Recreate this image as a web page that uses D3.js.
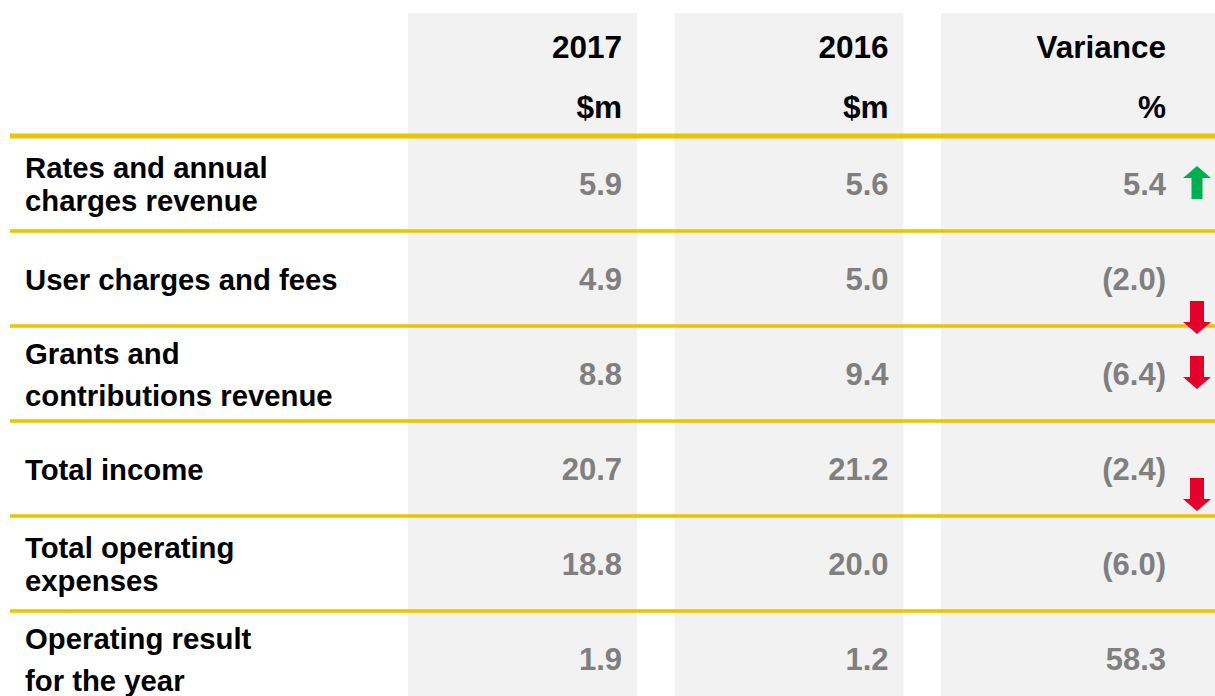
<!DOCTYPE html>
<html>
<head>
<meta charset="utf-8">
<script src="https://cdn.jsdelivr.net/npm/d3@7"></script>
<style>
  body { margin: 0; background: #fff; }
  text { font-family: "Liberation Sans", Arial, sans-serif; font-weight: bold; }
</style>
</head>
<body>
<div id="chart"></div>
<script>
// table data
var columns = ["2017", "2016", "Variance"];
var units = ["$m", "$m", "%"];
var rowLabels = [
    ["Rates and annual", "charges revenue"],
    ["User charges and fees"],
    ["Grants and", "contributions revenue"],
    ["Total income"],
    ["Total operating", "expenses"],
    ["Operating result", "for the year"]
];
var values2017 = [5.9, 4.9, 8.8, 20.7, 18.8, 1.9];
var values2016 = [5.6, 5.0, 9.4, 21.2, 20.0, 1.2];
var variance = [5.4, -2.0, -6.4, -2.4, -6.0, 58.3];
var arrowDir = ["up", "down", "down", "down", null, null];

// layout
var vWidth = 1215, vHeight = 696;
var labelGap = [33, 33, 42, 33, 33, 42];
var arrowShift = [0, 40, 0, 27, 0, 0];
var textShift = [0, 0, 11];

var svg = d3.select("#chart").append("svg")
    .attr("width", vWidth)
    .attr("height", vHeight);

var x = d3.scaleBand().domain(columns).range([408, 1170]).paddingInner(0.1407).paddingOuter(0);
var y = d3.scaleBand().domain(d3.range(rowLabels.length)).range([136, 136 + 95 * rowLabels.length]);

var fmt = d3.format(".1f");
function fmtVar(v) { return v < 0 ? "(" + fmt(-v) + ")" : fmt(v); }

// grey column backgrounds
svg.selectAll("rect.col")
    .data(columns)
    .enter().append("rect")
        .attr("class", "col")
        .attr("x", function (d) { return x(d); })
        .attr("y", 13)
        .attr("width", function (d, i) { return i === columns.length - 1 ? vWidth - x(d) : x.bandwidth(); })
        .attr("height", vHeight - 13)
        .style("fill", "#f2f2f2");

// header text
var colRight = function (d, i) { return x(d) + x.bandwidth() - 15 + textShift[i]; };
svg.selectAll("text.head")
    .data(columns)
    .enter().append("text")
        .attr("x", colRight)
        .attr("y", 58)
        .attr("text-anchor", "end")
        .style("font-size", "31.5px")
        .text(function (d) { return d; });
svg.selectAll("text.unit")
    .data(units)
    .enter().append("text")
        .attr("x", function (d, i) { return colRight(columns[i], i); })
        .attr("y", 118)
        .attr("text-anchor", "end")
        .style("font-size", "31.5px")
        .text(function (d) { return d; });

// yellow row rules
svg.selectAll("line.rule")
    .data(d3.range(rowLabels.length))
    .enter().append("line")
        .attr("x1", 10)
        .attr("x2", vWidth)
        .attr("y1", function (d) { return y(d); })
        .attr("y2", function (d) { return y(d); })
        .style("stroke", "#ebc300")
        .style("stroke-width", function (d) { return d === 0 ? 5 : 3.5; });

// row labels
var rows = svg.selectAll("g.row")
    .data(rowLabels)
    .enter().append("g")
        .attr("class", "row")
        .attr("transform", function (d, i) { return "translate(0," + (y(i) + y.bandwidth() / 2) + ")"; });

rows.append("text")
    .attr("x", 25)
    .attr("y", function (d, i) { return 11 - (d.length - 1) * labelGap[i] / 2; })
    .style("font-size", "29.3px")
    .style("fill", "#000")
    .selectAll("tspan")
    .data(function (d, i) { return d.map(function (t) { return { t: t, gap: labelGap[i] }; }); })
    .enter().append("tspan")
        .attr("x", 25)
        .attr("dy", function (d, j) { return j === 0 ? 0 : d.gap; })
        .text(function (d) { return d.t; });

// values
var cols = [values2017.map(fmt), values2016.map(fmt), variance.map(fmtVar)];
cols.forEach(function (vals, c) {
    rows.append("text")
        .attr("x", colRight(columns[c], c))
        .attr("y", 11.5)
        .attr("text-anchor", "end")
        .style("font-size", "31px")
        .style("fill", "#7f7f7f")
        .text(function (d, i) { return vals[i]; });
});

// arrows
function arrowPath(dir) {
    var h = 33, hh = 12, hw = 14, sw = dir === "up" ? 5.5 : 7;
    var p = [[0, -h / 2], [hw, -h / 2 + hh], [sw, -h / 2 + hh], [sw, h / 2], [-sw, h / 2], [-sw, -h / 2 + hh], [-hw, -h / 2 + hh]];
    if (dir === "down") p = p.map(function (q) { return [q[0], -q[1]]; });
    return d3.line()(p) + "Z";
}
rows.filter(function (d, i) { return arrowDir[i]; })
    .append("path")
        .attr("transform", function (d) {
            var i = rowLabels.indexOf(d);
            return "translate(1197," + (arrowShift[i] - 1) + ")";
        })
        .attr("d", function (d) { return arrowPath(arrowDir[rowLabels.indexOf(d)]); })
        .style("fill", function (d) { return arrowDir[rowLabels.indexOf(d)] === "up" ? "#00b050" : "#e4002b"; });
</script>
</body>
</html>
